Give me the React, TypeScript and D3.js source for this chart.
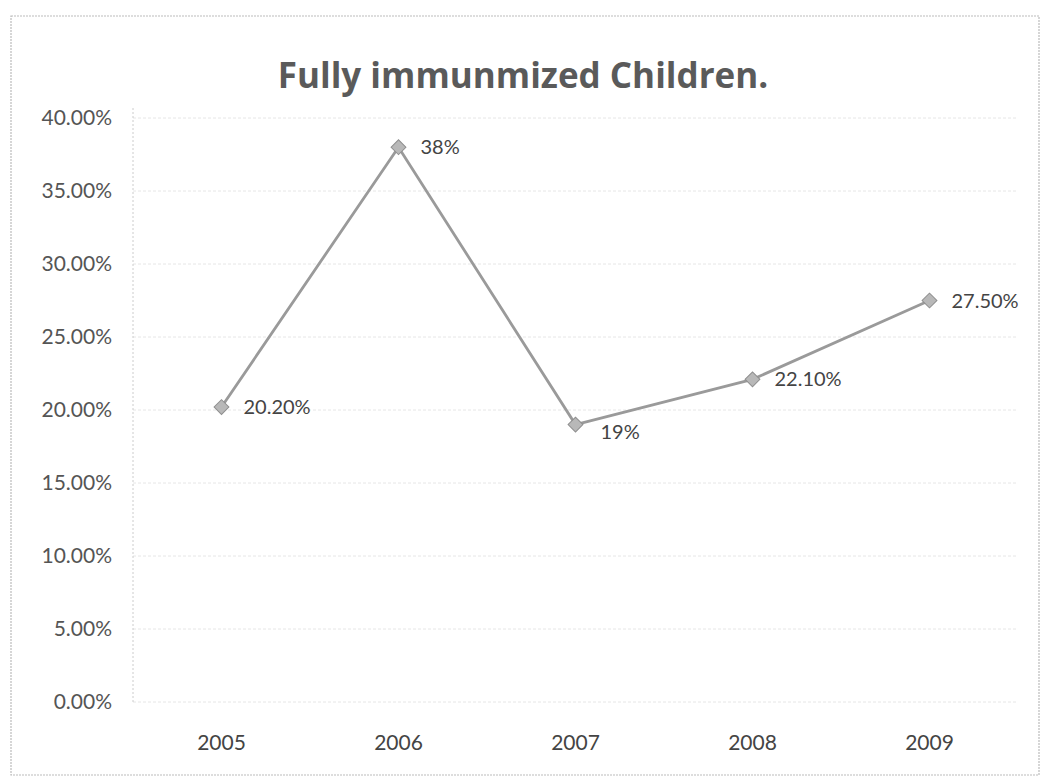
import React from "react";
import * as d3 from "d3";

// Share of fully immunized children by year
const years = ["2005", "2006", "2007", "2008", "2009"];
const coverage = [0.202, 0.38, 0.19, 0.221, 0.275];
const valueLabels = ["20.20%", "38%", "19%", "22.10%", "27.50%"];
const yTicks = [0, 0.05, 0.1, 0.15, 0.2, 0.25, 0.3, 0.35, 0.4];

const W = 1046;
const H = 781;
const margin = { left: 133, right: 28, top: 118, bottom: 79 };

export default function App() {
  const x = d3
    .scaleBand<string>()
    .domain(years)
    .range([margin.left, W - margin.right])
    .paddingInner(0)
    .paddingOuter(0);
  const y = d3.scaleLinear().domain([0, 0.4]).range([H - margin.bottom, margin.top]);
  const cx = (yr: string) => (x(yr) ?? 0) + x.bandwidth() / 2;
  const pts = years.map((yr, i) => [cx(yr), y(coverage[i])] as [number, number]);
  const line = d3.line()(pts) ?? "";
  const fmt = d3.format(".2%");
  const font = "Lato, 'Open Sans', sans-serif";
  const marker = d3.symbol(d3.symbolSquare, 110)() ?? "";

  return (
    <svg
      width={W}
      height={H}
      style={{ position: "absolute", left: 0, top: 0, background: "#fff" }}
      fontFamily={font}
    >
      <rect x={0} y={0} width={W} height={H} fill="#fff" />
      {/* chart frame */}
      <rect x={11} y={16} width={1028} height={759} fill="none" stroke="#bbb" strokeWidth={1.2} strokeDasharray="2 1" />

      {/* title */}
      <text x={523} y={88} textAnchor="middle" fontSize={35} fontWeight={700} fill="#5a5a5a" fontFamily="'Open Sans', Lato, sans-serif">
        Fully immunmized Children.
      </text>

      {/* horizontal gridlines */}
      {yTicks.map((t) => (
        <line
          key={t}
          x1={margin.left}
          x2={W - margin.right}
          y1={y(t)}
          y2={y(t)}
          stroke="#e6e6e6"
          strokeWidth={1}
          strokeDasharray="3 2"
        />
      ))}
      {/* value axis line */}
      <line x1={margin.left} x2={margin.left} y1={margin.top - 10} y2={H - margin.bottom} stroke="#ccc" strokeDasharray="2 2" />

      {/* y tick labels */}
      {yTicks.map((t) => (
        <text key={t} x={112} y={y(t) + 7} textAnchor="end" fontSize={21} fill="#555">
          {fmt(t)}
        </text>
      ))}

      {/* x tick labels */}
      {years.map((yr) => (
        <text key={yr} x={cx(yr)} y={750} textAnchor="middle" fontSize={21} fill="#444">
          {yr}
        </text>
      ))}

      {/* series */}
      <path d={line} fill="none" stroke="#9a9a9a" strokeWidth={2.8} />
      {pts.map(([px, py], i) => (
        <path
          key={i}
          d={marker}
          transform={`translate(${px},${py}) rotate(45)`}
          fill="#b8b8b8"
          stroke="#8f8f8f"
          strokeWidth={1}
        />
      ))}

      {/* data labels */}
      {pts.map(([px, py], i) => (
        <text
          key={i}
          x={px + (i === 2 ? 25 : 22)}
          y={py + (i === 2 ? 14 : 7)}
          fontSize={20}
          fill="#444"
        >
          {valueLabels[i]}
        </text>
      ))}
    </svg>
  );
}
